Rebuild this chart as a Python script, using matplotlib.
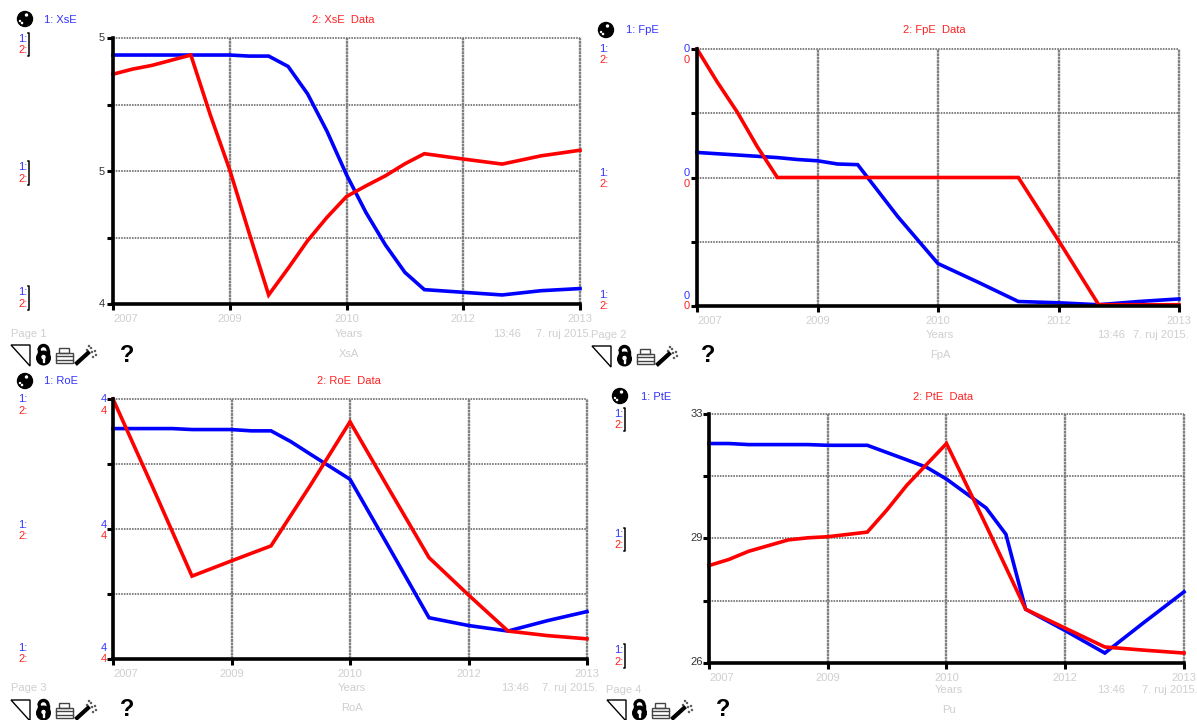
import matplotlib
matplotlib.use("Agg")
import matplotlib.pyplot as plt
from matplotlib.patches import Circle, Polygon, Rectangle, Wedge
from matplotlib.transforms import ScaledTranslation

plt.rcParams['font.family'] = ['Liberation Sans', 'DejaVu Sans']

tick_years = [2007, 2008.5, 2010, 2011.5, 2013]
tick_names = ["2007", "2009", "2010", "2012", "2013"]

# xs panel
xs_blue_t = [2007, 2008, 2008.5, 2008.75, 2009, 2009.25, 2009.5, 2009.75, 2010, 2010.25, 2010.5, 2010.75, 2011, 2011.5, 2012, 2012.5, 2013]
xs_blue = [4.936, 4.936, 4.936, 4.932, 4.932, 4.893, 4.790, 4.649, 4.486, 4.344, 4.222, 4.119, 4.054, 4.044, 4.034, 4.050, 4.058]
xs_red_t = [2007, 2007.25, 2007.5, 2008, 2008.25, 2008.5, 2008.75, 2009, 2009.25, 2009.5, 2009.75, 2010, 2010.25, 2010.5, 2010.75, 2011, 2011.5, 2012, 2012.5, 2013]
xs_red = [4.864, 4.883, 4.897, 4.936, 4.711, 4.504, 4.266, 4.034, 4.134, 4.238, 4.326, 4.404, 4.444, 4.482, 4.527, 4.565, 4.545, 4.526, 4.557, 4.578]

# fp panel
fp_blue_t = [2007, 2007.75, 2008, 2008.25, 2008.5, 2008.75, 2009, 2009.5, 2010, 2010.5, 2011, 2011.5, 2012, 2012.5, 2013]
fp_blue = [0.0239, 0.0233, 0.0231, 0.0228, 0.0226, 0.0221, 0.0220, 0.0139, 0.0066, 0.0037, 0.0007, 0.0005, 0.0002, 0.0007, 0.0011]
fp_red_t = [2007, 2007.25, 2007.5, 2007.75, 2008, 2011, 2011.5, 2012, 2013]
fp_red = [0.0400, 0.0349, 0.0302, 0.0248, 0.0200, 0.0200, 0.0102, 0.0002, 0.0002]

# ro panel
ro_blue_t = [2007, 2007.75, 2008, 2008.5, 2008.75, 2009, 2009.25, 2009.5, 2010, 2010.5, 2011, 2011.5, 2012, 2012.5, 2013]
ro_blue = [4.309, 4.309, 4.306, 4.306, 4.302, 4.302, 4.269, 4.230, 4.153, 3.941, 3.727, 3.703, 3.686, 3.718, 3.746]
ro_red_t = [2007, 2007.5, 2008, 2008.5, 2009, 2009.5, 2010, 2010.5, 2011, 2011.5, 2012, 2012.5, 2013]
ro_red = [4.400, 4.130, 3.855, 3.902, 3.948, 4.135, 4.330, 4.120, 3.912, 3.797, 3.686, 3.672, 3.662]

# pt panel
pt_blue_t = [2007, 2007.25, 2007.5, 2008.25, 2008.5, 2009, 2009.5, 2009.75, 2010, 2010.5, 2010.75, 2011, 2011.5, 2012, 2012.5, 2013]
pt_blue = [32.17, 32.17, 32.14, 32.14, 32.12, 32.12, 31.71, 31.50, 31.17, 30.36, 29.62, 27.51, 26.91, 26.28, 27.15, 28.00]
pt_red_t = [2007, 2007.25, 2007.5, 2008, 2008.25, 2008.5, 2009, 2009.25, 2009.5, 2010, 2010.5, 2011, 2011.5, 2012, 2012.5, 2013]
pt_red = [28.74, 28.91, 29.14, 29.46, 29.52, 29.55, 29.68, 30.31, 31.00, 32.17, 29.87, 27.51, 26.98, 26.45, 26.36, 26.28]

BLUE = "#0000ff"
RED = "#ff0000"
FAINT = "#cfcfcf"
KEY_BLUE = "#3333ff"
KEY_RED = "#ff2222"

fig = plt.figure(figsize=(11.97, 7.2), dpi=100)
ov = fig.add_axes([0, 0, 1, 1], zorder=5)
ov.set_xlim(0, 1197)
ov.set_ylim(720, 0)
ov.axis("off")
ov.patch.set_alpha(0)


def txt(x, y, s, color="black", ha="left", size=8):
    return ov.text(x, y, s, color=color, ha=ha, va="center", fontsize=size)


def panel(box, ylim, blue, red):
    l, t, r, b = box
    ax = fig.add_axes([l / 1197, 1 - b / 720, (r - l) / 1197, (b - t) / 720])
    ax.set_xlim(2007, 2013)
    ax.set_ylim(*ylim)
    ax.set_xticks(tick_years)
    ax.set_xticklabels(tick_names, color=FAINT, fontsize=8)
    labs = ax.get_xticklabels()
    labs[0].set_ha("left")
    labs[0].set_transform(labs[0].get_transform() + ScaledTranslation(-3 / 100, 0, fig.dpi_scale_trans))
    step = (ylim[1] - ylim[0]) / 4
    ax.set_yticks([ylim[0] + i * step for i in range(5)])
    ax.set_yticklabels([])
    ax.tick_params(axis="both", width=2.2, length=4, pad=3, color="black")
    for s in ["top", "right"]:
        ax.spines[s].set_visible(False)
    for s in ["left", "bottom"]:
        ax.spines[s].set_linewidth(2.6)
        ax.spines[s].set_zorder(4)
    ax.grid(axis="x", color="#808080", lw=1.7, ls=(0, (1.2, 0.25)), clip_on=False)
    ax.grid(axis="y", color="#777777", lw=1.3, ls=(0, (0.9, 0.6)), clip_on=False)
    ax.set_axisbelow(True)
    ax.plot(blue[0], blue[1], color=BLUE, lw=2.6, solid_joinstyle="miter", clip_on=False, zorder=3)
    ax.plot(red[0], red[1], color=RED, lw=2.6, solid_joinstyle="miter", clip_on=False, zorder=3)


def sphere(x, y):
    ov.add_patch(Circle((x, y), 7.5, color="black"))
    ov.add_patch(Circle((x + 1.5, y - 4), 1, color="white"))
    ov.add_patch(Circle((x - 3, y + 4), 0.6, color="white"))
    ov.add_patch(Circle((x - 5, y + 2), 0.5, color="white"))


def toolbar(x, y):
    # corner triangle
    ov.add_patch(Polygon([(x + 1, y), (x + 20, y), (x + 20, y + 21)], closed=True, fill=False, ec="black", lw=1))
    # lock
    ov.add_patch(Wedge((x + 33.5, y + 5), 5.5, 180, 360, width=2, color="black"))
    ov.add_patch(Rectangle((x + 37, y + 5), 2, 7, color="black"))
    ov.add_patch(Rectangle((x + 28, y + 5), 2, 2.5, color="black"))
    ov.add_patch(Circle((x + 33.5, y + 13), 6.8, color="black"))
    ov.add_patch(Circle((x + 33.5, y + 12), 1.5, color="white"))
    ov.add_patch(Rectangle((x + 33, y + 12), 1, 4.5, color="white"))
    # printer
    ov.add_patch(Rectangle((x + 45.5, y + 7.5), 17.5, 10.5, fill=False, ec="#444444", lw=1))
    ov.add_patch(Rectangle((x + 49, y + 2.5), 10, 5, fill=False, ec="#444444", lw=1))
    ov.plot([x + 45.5, x + 63], [y + 11, y + 11], color="#444444", lw=1)
    ov.plot([x + 45.5, x + 63], [y + 14.5, y + 14.5], color="#444444", lw=1)
    # wand
    ov.plot([x + 67, x + 78], [y + 18, y + 8], color="black", lw=3)
    for dx, dy in [(80, 2), (84, 5), (78, 0), (85, 9), (82, 11), (76, 4), (81, 6)]:
        ov.add_patch(Rectangle((x + dx, y + dy), 1, 1, color="#555555"))
    # help mark
    t = txt(x + 117, y + 10, "?", ha="center", size=17)
    t.set_fontweight("bold")


def key(x, rows, bracket=None):
    for y1, y2 in rows:
        txt(x, y1, "1:", KEY_BLUE)
        txt(x, y2, "2:", KEY_RED)
        if bracket is not None:
            ov.plot([bracket - 1.5, bracket, bracket, bracket - 1.5],
                    [y1 - 6, y1 - 6, y2 + 6, y2 + 6], color="black", lw=1.1)


def footer(page, page_x, page_y, mid_x, name, time_x, date_x, name_y):
    txt(page_x, page_y, page, FAINT)
    txt(mid_x, page_y, "Years", FAINT, ha="center")
    txt(mid_x, name_y, name, FAINT, ha="center")
    txt(time_x, page_y, "13:46", FAINT, ha="center")
    txt(date_x, page_y, "7. ruj 2015.", FAINT, ha="center")


# panels
panel((113, 38, 580, 304), (4, 5), (xs_blue_t, xs_blue), (xs_red_t, xs_red))
panel((697, 49, 1179, 306), (0, 0.04), (fp_blue_t, fp_blue), (fp_red_t, fp_red))
panel((113, 399, 587, 659), (3.6, 4.4), (ro_blue_t, ro_blue), (ro_red_t, ro_red))
panel((709, 414, 1184, 663), (26, 33), (pt_blue_t, pt_blue), (pt_red_t, pt_red))

# titles and keys
sphere(25, 19)
txt(44, 20, "1: XsE", KEY_BLUE)
txt(312, 20, "2: XsE  Data", KEY_RED)
key(18, [(39, 50), (167, 179), (292, 304)], bracket=29)
for y, s in [(38, "5"), (172, "5"), (304, "4")]:
    txt(105, y, s, "#333333", ha="right")
footer("Page 1", 11, 334, 349, "XsA", 507, 564, 354)
toolbar(10, 345)

sphere(606, 30)
txt(626, 30, "1: FpE", KEY_BLUE)
txt(903, 30, "2: FpE  Data", KEY_RED)
key(599, [(49, 60), (173, 184), (295, 306)])
for y1, y2 in [(49, 60), (173, 184), (296, 306)]:
    txt(690, y1, "0", KEY_BLUE, ha="right")
    txt(690, y2, "0", KEY_RED, ha="right")
footer("Page 2", 591, 335, 940, "FpA", 1111, 1161, 355)
toolbar(591, 346)

sphere(25, 381)
txt(44, 381, "1: RoE", KEY_BLUE)
txt(317, 381, "2: RoE  Data", KEY_RED)
key(18, [(399, 411), (525, 536), (648, 659)])
for y1, y2 in [(399, 411), (525, 536), (648, 659)]:
    txt(107, y1, "4", KEY_BLUE, ha="right")
    txt(107, y2, "4", KEY_RED, ha="right")
footer("Page 3", 11, 688, 352, "RoA", 515, 570, 708)
toolbar(10, 700)

sphere(620, 396)
txt(641, 397, "1: PtE", KEY_BLUE)
txt(913, 397, "2: PtE  Data", KEY_RED)
key(614, [(414, 425), (534, 545), (650, 662)], bracket=625)
for y, s in [(414, "33"), (538, "29"), (662, "26")]:
    txt(703, y, s, "#333333", ha="right")
footer("Page 4", 606, 690, 949, "Pu", 1111, 1170, 710)
toolbar(606, 700)

fig.savefig("out.png", dpi=100)
